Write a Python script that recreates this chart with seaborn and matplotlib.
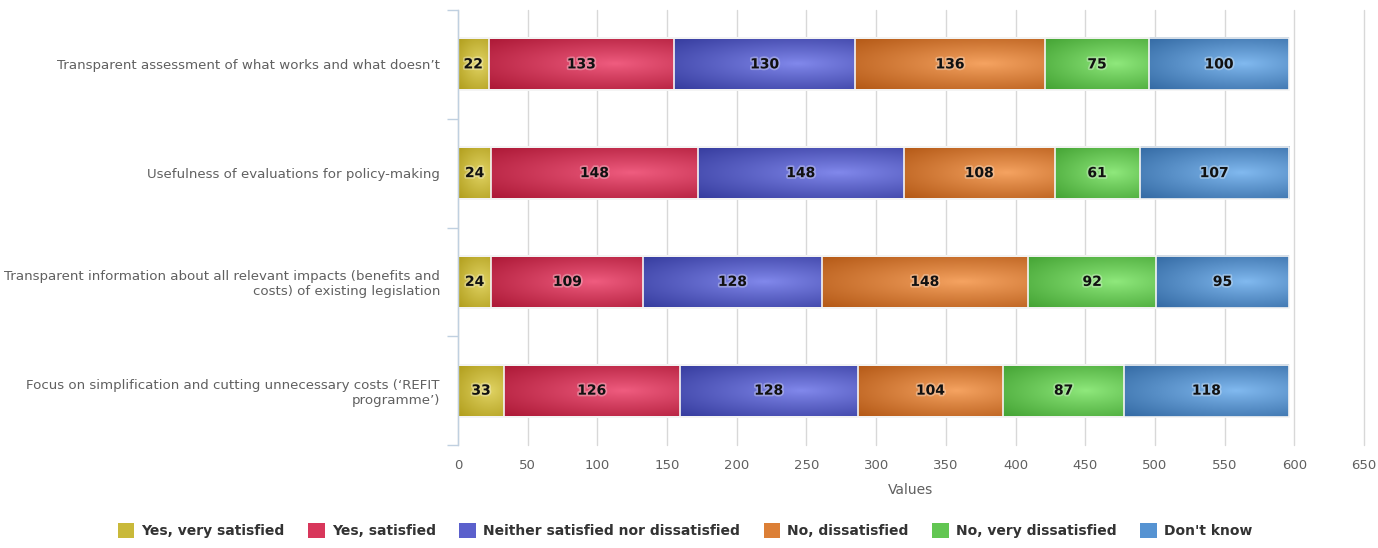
import numpy as np
import pandas as pd
import matplotlib
matplotlib.use('Agg')
import matplotlib.pyplot as plt
import matplotlib.patheffects as pe
from matplotlib.colors import LinearSegmentedColormap
from matplotlib.patches import Patch
import seaborn as sns

# data
categories = [
    "Transparent assessment of what works and what doesn\u2019t",
    "Usefulness of evaluations for policy-making",
    "Transparent information about all relevant impacts (benefits and\ncosts) of existing legislation",
    "Focus on simplification and cutting unnecessary costs (\u2018REFIT\nprogramme\u2019)",
]
series_names = ["Yes, very satisfied", "Yes, satisfied", "Neither satisfied nor dissatisfied",
                "No, dissatisfied", "No, very dissatisfied", "Don't know"]
very_satisfied = [22, 24, 24, 33]
satisfied = [133, 148, 109, 126]
neither = [130, 148, 128, 128]
dissatisfied = [136, 108, 148, 104]
very_dissatisfied = [75, 61, 92, 87]
dont_know = [100, 107, 95, 118]
x_ticks = list(range(0, 651, 50))

# light centre / dark rim for each series
shades = [
    ("#e2d566", "#ab9713"),
    ("#f05d80", "#a5112e"),
    ("#8289ec", "#2e3496"),
    ("#f6a462", "#ad510e"),
    ("#90e97d", "#3c9c2c"),
    ("#82baf0", "#2c629c"),
]
legend_colors = ["#c9b93a", "#d8375b", "#5b60cc", "#dc7f36", "#62c652", "#5693d2"]

values = [very_satisfied, satisfied, neither, dissatisfied, very_dissatisfied, dont_know]
rows = []
for name, vals in zip(series_names, values):
    for q, v in zip(categories, vals):
        rows.append({'question': q, 'series': name, 'value': v})
df = pd.DataFrame(rows)
df['end'] = df.groupby('question', sort=False)['value'].cumsum()
df['start'] = df['end'] - df['value']

sns.set_theme(style='white')
plt.rcParams['font.family'] = ['DejaVu Sans']

fig = plt.figure(figsize=(13.78, 5.48), dpi=100)
ax = fig.add_axes([458 / 1378, 1 - 445 / 548, (1364 - 458) / 1378, (445 - 10) / 548])

bar_w = 0.48
# stacked bars: draw cumulative totals, longest first
for name in reversed(series_names):
    sub = df[df['series'] == name]
    sns.barplot(data=sub, x='end', y='question', order=categories, orient='h',
                color='white', width=bar_w, edgecolor='#f4f4f4', linewidth=1.2, ax=ax)

for p in ax.patches:
    p.set_facecolor('none')
    p.set_zorder(3)

# radial gradient fill for every visible segment
nx, ny = 200, 60
u = np.linspace(0, 1, nx)
v = np.linspace(0, 1, ny)
U, V = np.meshgrid(u, v)
d = np.sqrt(((U - 0.68) / 0.75) ** 2 + ((V - 0.5) / 0.55) ** 2) / np.sqrt(2)
d = np.clip(d, 0, 1) ** 0.9
for i, name in enumerate(series_names):
    cmap = LinearSegmentedColormap.from_list(name, list(shades[i]))
    sub = df[df['series'] == name]
    for j, q in enumerate(categories):
        r = sub[sub['question'] == q].iloc[0]
        ax.imshow(d, cmap=cmap, vmin=0, vmax=1, aspect='auto', interpolation='bilinear',
                  extent=(r['start'], r['end'], j - bar_w / 2, j + bar_w / 2), zorder=2)
        ax.text((r['start'] + r['end']) / 2, j, str(r['value']), ha='center', va='center',
                fontsize=10, fontweight='bold', color='#111111', zorder=4,
                path_effects=[pe.withStroke(linewidth=2.5, foreground='white', alpha=0.3)])

ax.set_xlim(0, 650)
ax.set_ylim(len(categories) - 0.5, -0.5)
ax.set_xticks(x_ticks)
ax.set_xticklabels([str(t) for t in x_ticks])
ax.set_yticks(range(len(categories)))
ax.set_yticklabels(categories)
ax.set_yticks(np.arange(-0.5, len(categories), 1), minor=True)
ax.grid(axis='x', color='#d8d8d8', linewidth=1)
ax.grid(axis='y', visible=False)
ax.set_axisbelow(True)
for gl in ax.get_xgridlines():
    gl.set_clip_on(False)
for s in ['top', 'right', 'bottom']:
    ax.spines[s].set_visible(False)
ax.spines['left'].set_color('#c0d0e0')
ax.spines['left'].set_linewidth(1)
ax.spines['left'].set_zorder(5)
ax.tick_params(axis='y', which='major', length=0, pad=13, labelsize=9.6, labelcolor='#606060')
ax.tick_params(axis='y', which='minor', length=8, width=1, color='#c0d0e0', left=True)
ax.tick_params(axis='x', length=0, pad=10, labelsize=9.5, labelcolor='#606060')
for lab in ax.get_yticklabels():
    lab.set_multialignment('right')
ax.set_ylabel('')
ax.set_xlabel('Values', fontsize=10, color='#606060', labelpad=8)

handles = [Patch(facecolor=c, edgecolor='none') for c in legend_colors]
fig.legend(handles, series_names, loc='lower center', bbox_to_anchor=(0.497, -0.005), ncol=6,
           frameon=False, handlelength=1.2, handleheight=1.2, handletextpad=0.5,
           columnspacing=1.7, prop={'weight': 'bold', 'size': 10})
for t in fig.legends[0].get_texts():
    t.set_color('#333333')

fig.savefig('out.png', dpi=100)
